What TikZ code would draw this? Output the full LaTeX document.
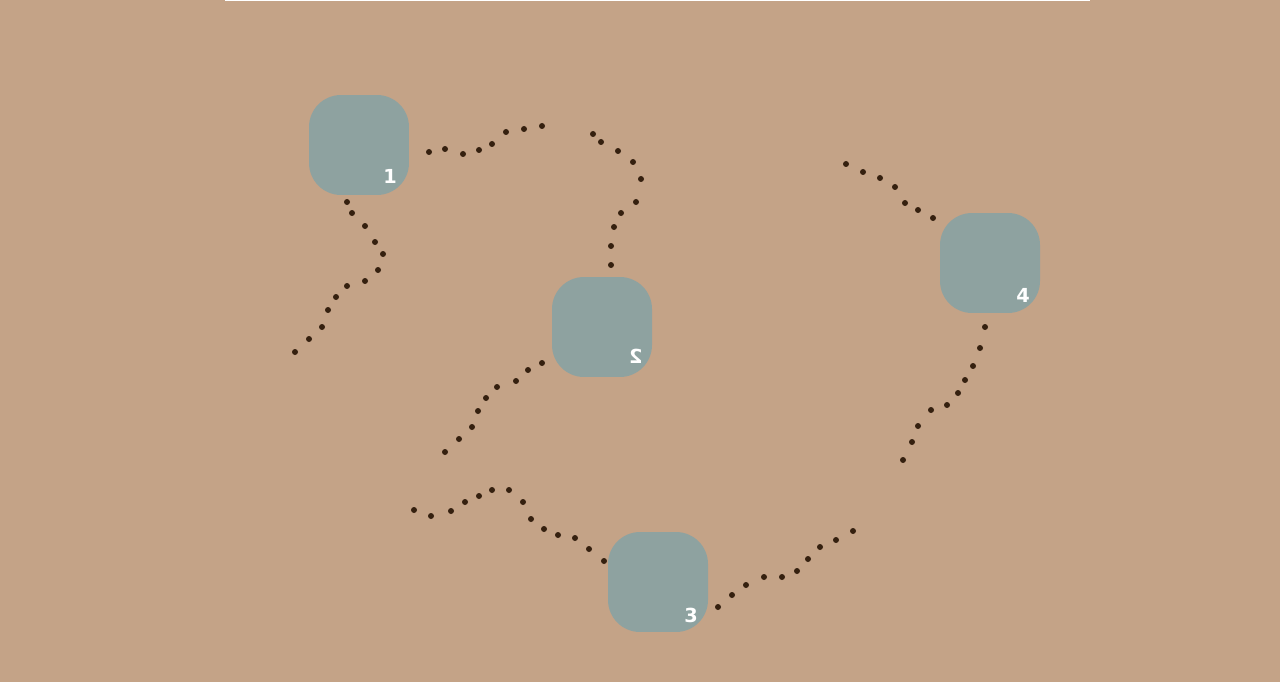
\documentclass[tikz,border=0pt]{standalone}
\usepackage{fontspec}
\setmainfont{DejaVu Sans}
\definecolor{bg}{HTML}{C4A387}
\definecolor{boxc}{HTML}{8EA2A0}
\definecolor{dotc}{HTML}{35200F}
\begin{document}
\begin{tikzpicture}[x=0.02cm,y=-0.02cm,
  tile/.style={fill=boxc,draw=none,rounded corners=0.64cm,minimum width=2cm,minimum height=2cm,inner sep=0pt},
  lbl/.style={text=white,font=\bfseries\fontsize{11}{11}\selectfont,inner sep=0pt},
  pt/.style={fill=dotc,draw=none}]
\fill[bg] (0,0) rectangle (1280,682);
\useasboundingbox (0,0) rectangle (1280,682);
\draw[white,line width=1.2pt] (225,0.4) -- (1090,0.4);
\node[tile] (b1) at (359,145) {};
\node[tile] (b2) at (602,327) {};
\node[tile] (b3) at (658,582) {};
\node[tile] (b4) at (990,263) {};
\node[lbl] (l1) at (390,176) {1};
\node[lbl] (l2) at (636,356) {\reflectbox{2}};
\node[lbl] (l3) at (691,615) {3};
\node[lbl] (l4) at (1023,295) {4};
\foreach \p in {
 (347,202),(352,213),(365,226),(375,242),(383,254),(378,270),(365,281),(347,286),(336,297),(328,310),(322,327),(309,339),(295,352),
 (429,152),(445,149),(463,154),(479,150),(492,144),(506,132),(524,129),(542,126),
 (593,134),(601,142),(618,151),(633,162),(641,179),(636,202),(621,213),(614,227),(611,246),(611,265),
 (542,363),(528,370),(516,381),(497,387),(486,398),(478,411),(472,427),(459,439),(445,452),
 (414,510),(431,516),(451,511),(465,502),(479,496),(492,490),(509,490),(523,502),(531,519),(544,529),(558,535),(575,538),(589,549),(604,561),
 (718,607),(732,595),(746,585),(764,577),(782,577),(797,571),(808,559),(820,547),(836,540),(853,531),
 (846,164),(863,172),(880,178),(895,187),(905,203),(918,210),(933,218),
 (985,327),(980,348),(973,366),(965,380),(958,393),(947,405),(931,410),(918,426),(912,442),(903,460)}
 \fill[pt] \p circle (3);
\end{tikzpicture}
\end{document}
